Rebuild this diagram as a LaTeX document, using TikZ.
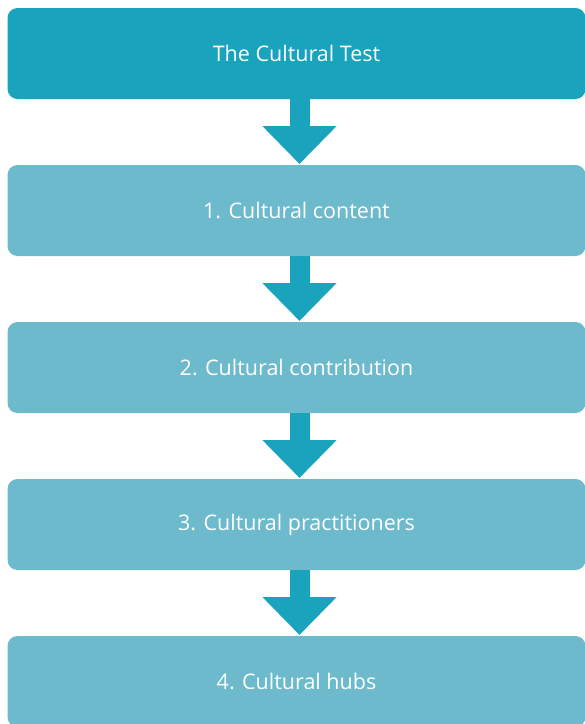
\documentclass[tikz,border=0pt]{standalone}
\usepackage{fontspec}
\setmainfont{Open Sans}
\usetikzlibrary{arrows.meta,positioning}

\definecolor{testblue}{HTML}{19A3BD}
\definecolor{steplight}{HTML}{6DBACD}

\begin{document}
\begin{tikzpicture}[-{Triangle[length=38pt,width=72pt]},shorten >=1pt,
                    node distance=66pt, line width=20pt, draw=testblue]
	  \tikzstyle{every node}=[rectangle,rounded corners=10pt,minimum width=578pt,minimum height=91pt,
	                          inner sep=0pt,outer sep=0pt,text=white,font=\fontsize{21.5}{24}\selectfont]
	  \tikzstyle{stepbox}=[fill=steplight]

	  \useasboundingbox (0,0) rectangle (585pt,-724pt);

	  \node[fill=testblue] (test) at (296.5pt,-53.5pt) {The Cultural Test};
	  \node[stepbox]       (content) [below=of test]         {1. Cultural content};
	  \node[stepbox]       (contrib) [below=of content]      {2. Cultural contribution};
	  \node[stepbox]       (practs) [below=of contrib]       {3. Cultural practitioners};
	  \node[stepbox]       (hubs) [below=of practs]          {4. Cultural hubs};

	  \foreach \a/\b in {test/content,content/contrib,contrib/practs,practs/hubs}
	    \draw[testblue] ([xshift=3pt]\a.south) -- ([xshift=3pt]\b.north);
	\end{tikzpicture}
\end{document}
